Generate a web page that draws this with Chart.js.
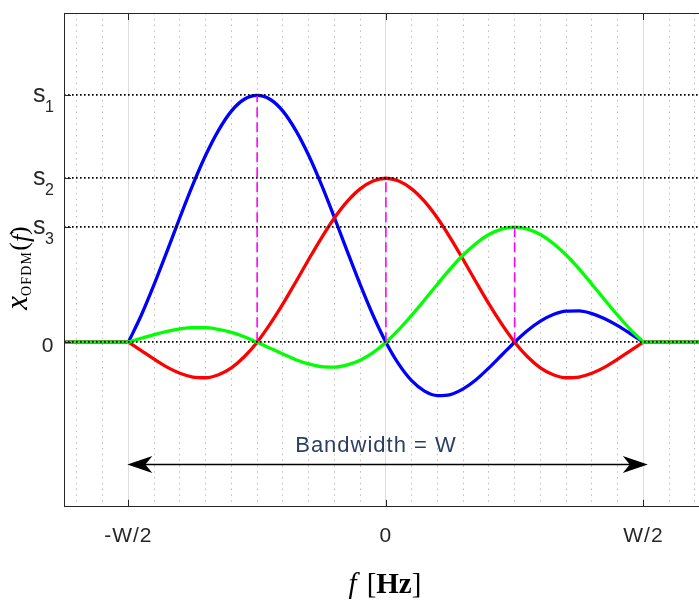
<!DOCTYPE html>
<html>
<head>
<meta charset="utf-8">
<script src="https://cdn.jsdelivr.net/npm/chart.js@4.4.1/dist/chart.umd.min.js"></script>
<style>
  html, body { margin: 0; padding: 0; background: #fff; overflow: hidden; }
  #wrap { width: 712px; height: 600px; }
</style>
</head>
<body>
<div id="wrap"><canvas id="chart" width="712" height="600"></canvas></div>
<script>
// frequency in units of W/2 (inside the band)
const freq = [
  -1.00, -0.95, -0.90, -0.85, -0.80, -0.75, -0.70, -0.65, -0.60, -0.55,
  -0.50, -0.45, -0.40, -0.35, -0.30, -0.25, -0.20, -0.15, -0.10, -0.05,
  0.00, 0.05, 0.10, 0.15, 0.20, 0.25, 0.30, 0.35, 0.40, 0.45,
  0.50, 0.55, 0.60, 0.65, 0.70, 0.75, 0.80, 0.85, 0.90, 0.95, 1.00,
];
const blueValues = [
  0, 0.109, 0.234, 0.368, 0.505, 0.637, 0.757, 0.858, 0.936, 0.984,
  1, 0.984, 0.936, 0.858, 0.757, 0.637, 0.505, 0.368, 0.234, 0.109,
  0, -0.089, -0.156, -0.198, -0.216, -0.212, -0.189, -0.152, -0.104, -0.052,
  0, 0.047, 0.085, 0.112, 0.126, 0.127, 0.116, 0.095, 0.067, 0.034, 0,
];
const redValues = [
  0, -0.034, -0.069, -0.101, -0.126, -0.141, -0.144, -0.132, -0.104, -0.059,
  0, 0.073, 0.155, 0.244, 0.335, 0.423, 0.503, 0.57, 0.621, 0.653,
  0.664, 0.653, 0.621, 0.57, 0.503, 0.423, 0.335, 0.244, 0.155, 0.073,
  0, -0.059, -0.104, -0.132, -0.144, -0.141, -0.126, -0.101, -0.069, -0.034, 0,
];
const greenValues = [
  0, 0.016, 0.031, 0.044, 0.054, 0.059, 0.059, 0.052, 0.04, 0.022,
  0, -0.024, -0.048, -0.071, -0.088, -0.099, -0.101, -0.092, -0.073, -0.042,
  0, 0.051, 0.109, 0.171, 0.235, 0.297, 0.353, 0.4, 0.436, 0.458,
  0.466, 0.458, 0.436, 0.4, 0.353, 0.297, 0.235, 0.171, 0.109, 0.051, 0,
];

// outside the band every carrier is zero
const tailFreq = [
  [-1.25, -1],
  [1, 1.25],
];
const tailValues = [0, 0];

const peakFreq = [-0.5, 0, 0.5];
const peakLevels = [1, 0.664, 0.466];

const yTickValues = [0, 0.466, 0.664, 1];
const yTickBase = ["0", "s", "s", "s"];
const yTickSub = ["", "3", "2", "1"];

const xMajorTicks = [-1, 0, 1];
const xMajorLabels = ["-W/2", "0", "W/2"];
const xGridTicks = [
  -1.2, -1.1, -1, -0.9, -0.8, -0.7, -0.6, -0.5, -0.4, -0.3, -0.2, -0.1, 0,
  0.1, 0.2, 0.3, 0.4, 0.5, 0.6, 0.7, 0.8, 0.9, 1, 1.1, 1.2,
];

const bandFrom = -1.004;
const bandTo = 1.017;
const bandLevel = -0.495;
const bandText = "Bandwidth = W";

const SANS = "'Liberation Sans', Arial, Helvetica, sans-serif";
const SERIF = "'Liberation Serif', 'Times New Roman', serif";
const AXIS_COLOR = "#262626";

function majorIndex(v) {
  return xMajorTicks.findIndex((m) => Math.abs(m - v) < 1e-9);
}

function carrier(values, color, order) {
  const sets = [
    {
      data: freq.map((f, i) => ({ x: f, y: values[i] })),
      borderColor: color,
      cubicInterpolationMode: "monotone",
      order: order,
    },
  ];
  tailFreq.forEach((t) => {
    sets.push({
      data: t.map((f, i) => ({ x: f, y: tailValues[i] })),
      borderColor: color,
      order: order,
    });
  });
  return sets;
}

const peakLines = peakFreq.map((f, i) => ({
  data: [
    { x: f, y: 0 },
    { x: f, y: peakLevels[i] },
  ],
  borderColor: "#ff00ff",
  borderWidth: 1.6,
  borderDash: [10, 5],
  borderCapStyle: "butt",
  order: 0,
}));

const extras = {
  id: "extras",
  beforeDraw(chart) {
    chart.ctx.letterSpacing = "1px";
  },
  afterDraw(chart) {
    const { ctx, chartArea: a, scales } = chart;
    const x = scales.x;
    const y = scales.y;
    ctx.save();

    // box top/left and inward ticks
    ctx.strokeStyle = AXIS_COLOR;
    ctx.lineWidth = 1;
    ctx.setLineDash([]);
    ctx.beginPath();
    const top = Math.round(a.top) + 0.5;
    const left = Math.round(a.left) + 0.5;
    ctx.moveTo(a.left, top);
    ctx.lineTo(a.right, top);
    ctx.moveTo(left, a.top);
    ctx.lineTo(left, a.bottom);
    xMajorTicks.forEach((v) => {
      const px = Math.round(x.getPixelForValue(v)) + 0.5;
      ctx.moveTo(px, a.top);
      ctx.lineTo(px, a.top + 7);
      ctx.moveTo(px, a.bottom);
      ctx.lineTo(px, a.bottom - 7);
    });
    yTickValues.forEach((v) => {
      const py = Math.round(y.getPixelForValue(v)) + 0.5;
      ctx.moveTo(a.left, py);
      ctx.lineTo(a.left + 7, py);
    });
    ctx.stroke();

    // y tick labels with subscripts
    ctx.fillStyle = AXIS_COLOR;
    ctx.textBaseline = "alphabetic";
    ctx.letterSpacing = "0px";
    yTickValues.forEach((v, i) => {
      const py = y.getPixelForValue(v);
      if (!yTickSub[i]) {
        ctx.textAlign = "right";
        ctx.font = "21px " + SANS;
        ctx.fillText(yTickBase[i], a.left - 10.5, py + 10);
        return;
      }
      ctx.textAlign = "right";
      ctx.font = "25px " + SANS;
      ctx.fillText(yTickBase[i], a.left - 18.5, py + 6.5);
      ctx.textAlign = "left";
      ctx.font = "16px " + SANS;
      ctx.fillText(yTickSub[i], a.left - 19, py + 17);
    });

    // bandwidth arrow
    const ay = Math.round(y.getPixelForValue(bandLevel)) + 0.5;
    const x1 = x.getPixelForValue(bandFrom);
    const x2 = x.getPixelForValue(bandTo);
    ctx.strokeStyle = "#000";
    ctx.fillStyle = "#000";
    ctx.lineWidth = 1.5;
    ctx.beginPath();
    ctx.moveTo(x1 + 10, ay);
    ctx.lineTo(x2 - 10, ay);
    ctx.stroke();
    [[x1, 1], [x2, -1]].forEach(([tip, dir]) => {
      ctx.beginPath();
      ctx.moveTo(tip, ay);
      ctx.lineTo(tip + dir * 25, ay - 8.5);
      ctx.lineTo(tip + dir * 18, ay);
      ctx.lineTo(tip + dir * 25, ay + 8.5);
      ctx.closePath();
      ctx.fill();
    });

    ctx.fillStyle = "#2b3f63";
    ctx.font = "22px " + SANS;
    ctx.letterSpacing = "1px";
    ctx.textAlign = "center";
    ctx.fillText(bandText, 376, ay - 12.5);

    // x axis title: f [Hz]
    ctx.letterSpacing = "0px";
    ctx.fillStyle = "#000";
    ctx.textAlign = "left";
    const parts = [
      ["italic 29px " + SERIF, "f", 10],
      ["29px " + SERIF, "[", 0],
      ["bold 29px " + SERIF, "Hz", 0],
      ["29px " + SERIF, "]", 0],
    ];
    let total = 0;
    parts.forEach((p) => {
      ctx.font = p[0];
      total += ctx.measureText(p[1]).width + p[2];
    });
    let cx = 385 - total / 2;
    parts.forEach((p) => {
      ctx.font = p[0];
      ctx.fillText(p[1], cx, 593);
      cx += ctx.measureText(p[1]).width + p[2];
    });

    // y axis title: x_OFDM(f)
    ctx.translate(27, 268);
    ctx.rotate(-Math.PI / 2);
    const yparts = [
      ["italic 31px " + SERIF, "x", 0, 0],
      ["14px " + SERIF, "OFDM", 4, 1.2],
      ["26px " + SERIF, "(", 0, 0],
      ["italic 26px " + SERIF, "f", 2, 0],
      ["26px " + SERIF, ")", 0, 0],
    ];
    let ytotal = 0;
    yparts.forEach((p) => {
      ctx.font = p[0];
      ctx.letterSpacing = p[3] + "px";
      ytotal += ctx.measureText(p[1]).width;
    });
    let ty = -ytotal / 2;
    yparts.forEach((p) => {
      ctx.font = p[0];
      ctx.letterSpacing = p[3] + "px";
      ctx.fillText(p[1], ty, p[2]);
      ty += ctx.measureText(p[1]).width;
    });

    ctx.restore();
  },
};

new Chart(document.getElementById("chart"), {
  type: "line",
  data: {
    datasets: [
      ...peakLines,
      ...carrier(greenValues, "#00ff00", 1),
      ...carrier(redValues, "#ff0000", 2),
      ...carrier(blueValues, "#0000ff", 3),
    ],
  },
  options: {
    responsive: false,
    animation: false,
    devicePixelRatio: 1,
    layout: { padding: { left: 64, top: 13, right: 4, bottom: 34 } },
    elements: {
      point: { radius: 0 },
      line: { borderWidth: 3.3, tension: 0, borderJoinStyle: "round", borderCapStyle: "round" },
    },
    plugins: { legend: { display: false }, tooltip: { enabled: false } },
    scales: {
      x: {
        type: "linear",
        min: -1.25,
        max: 1.25,
        afterBuildTicks: (scale) => {
          scale.ticks = xGridTicks.map((v) => ({ value: v }));
        },
        ticks: {
          autoSkip: false,
          maxRotation: 0,
          padding: 17,
          color: AXIS_COLOR,
          font: { family: SANS, size: 21 },
          callback: (v) => {
            const i = majorIndex(v);
            return i >= 0 ? xMajorLabels[i] : "";
          },
        },
        grid: {
          drawTicks: false,
          lineWidth: 1,
          color: (c) => (c.tick && majorIndex(c.tick.value) >= 0 ? "#dddddd" : "#bdbdbd"),
        },
        border: {
          color: AXIS_COLOR,
          width: 1,
          dash: (c) => (c.tick && majorIndex(c.tick.value) < 0 ? [1.5, 4.3] : []),
        },
      },
      y: {
        type: "linear",
        min: -2 / 3,
        max: 4 / 3,
        afterBuildTicks: (scale) => {
          scale.ticks = yTickValues.map((v) => ({ value: v }));
        },
        ticks: { display: false },
        grid: { drawTicks: false, color: "#000", lineWidth: 1.8, z: 1 },
        border: { display: false, dash: [1.6, 2.4] },
      },
    },
  },
  plugins: [extras],
});
</script>
</body>
</html>
